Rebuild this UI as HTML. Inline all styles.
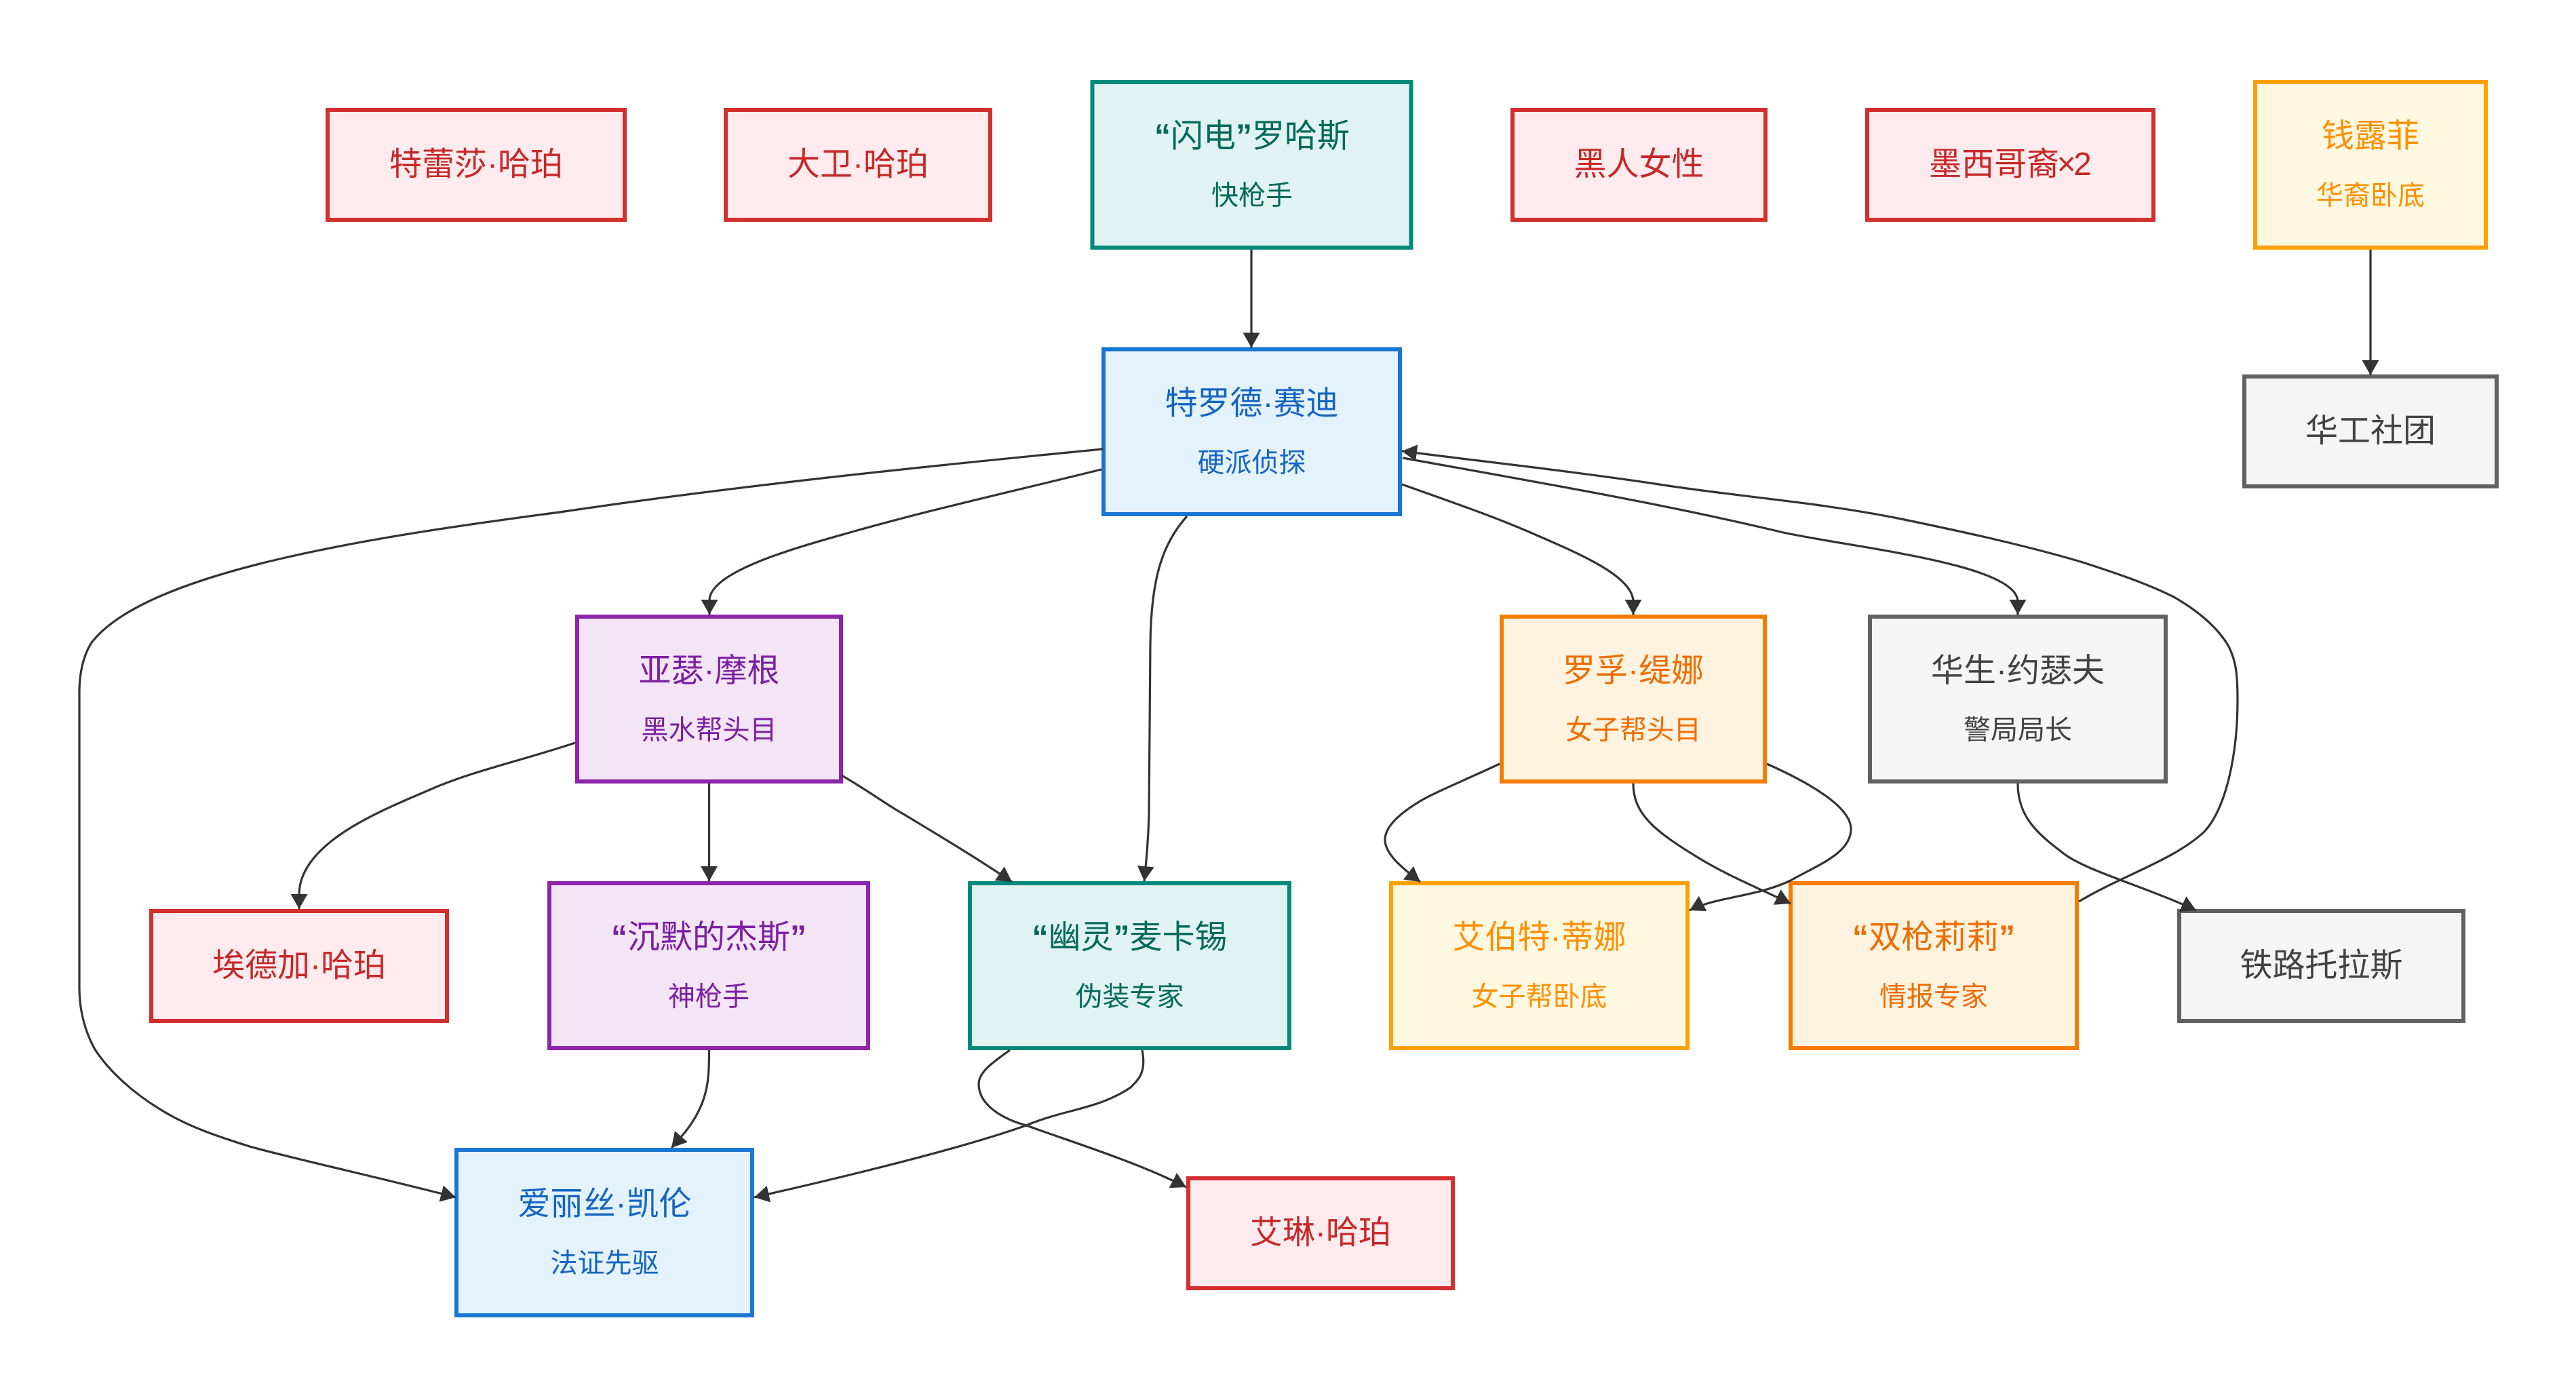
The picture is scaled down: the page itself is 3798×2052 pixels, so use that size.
<!DOCTYPE html>
<html><head><meta charset="utf-8">
<style>
html,body{margin:0;padding:0;background:#fff;width:3798px;height:2052px;overflow:hidden}
svg{display:block}
text{font-family:"Liberation Sans","Noto Sans CJK SC",sans-serif;text-anchor:middle}
.t{font-size:48px}.s{font-size:40px}
.e{fill:none;stroke:#333;stroke-width:3.2;marker-end:url(#a)}
.r rect{fill:#ffebee;stroke:#d32f2f;stroke-width:6}.r text{fill:#c62828}
.g rect{fill:#e0f2f1;stroke:#00897b;stroke-width:6}.g text{fill:#00695c}
.b rect{fill:#e3f2fd;stroke:#1976d2;stroke-width:6}.b text{fill:#1565c0}
.p rect{fill:#f3e5f5;stroke:#8e24aa;stroke-width:6}.p text{fill:#7b1fa2}
.o rect{fill:#fff3e0;stroke:#f57c00;stroke-width:6}.o text{fill:#ef6c00}
.y rect{fill:#fff8e1;stroke:#ffa000;stroke-width:6}.y text{fill:#ff8f00}
.h rect{fill:#f5f5f5;stroke:#616161;stroke-width:6}.h text{fill:#424242}
.q{font-weight:700}
</style></head><body>
<svg width="3798" height="2052" viewBox="0 0 3798 2052" xmlns="http://www.w3.org/2000/svg">
<defs><marker id="a" markerUnits="userSpaceOnUse" markerWidth="22" markerHeight="25" viewBox="0 0 22 25" refX="22" refY="12.5" orient="auto"><path d="M0 0L22 12.500L0 25z" fill="#333"/></marker></defs>

<g class="r"><rect x="483" y="162" width="438" height="162"/><text class="t" x="702" y="258">特蕾莎·哈珀</text></g>
<g class="r"><rect x="1070" y="162" width="390" height="162"/><text class="t" x="1265" y="258">大卫·哈珀</text></g>
<g class="g"><rect x="1610.500" y="121" width="470" height="244"/><text class="t" x="1846" y="216.500"><tspan class="q">“</tspan>闪电<tspan class="q">”</tspan>罗哈斯</text><text class="s" x="1846" y="301.500">快枪手</text></g>
<g class="r"><rect x="2230" y="162" width="373" height="162"/><text class="t" x="2416.500" y="258">黑人女性</text></g>
<g class="r"><rect x="2753" y="162" width="422" height="162"/><text class="t" x="2964" y="258">墨西哥裔<tspan dx="-3.500">×</tspan><tspan dx="-3.500">2</tspan></text></g>
<g class="y"><rect x="3325" y="121" width="340" height="244"/><text class="t" x="3495" y="216.500">钱露菲</text><text class="s" x="3495" y="301.500">华裔卧底</text></g>

<g class="b"><rect x="1627" y="515" width="437" height="243"/><text class="t" x="1845.500" y="610.500">特罗德·赛迪</text><text class="s" x="1845.500" y="695.500">硬派侦探</text></g>
<g class="h"><rect x="3309" y="555" width="372" height="162"/><text class="t" x="3495" y="651">华工社团</text></g>

<g class="p"><rect x="851" y="909" width="389" height="243"/><text class="t" x="1045.500" y="1004.500">亚瑟·摩根</text><text class="s" x="1045.500" y="1089.500">黑水帮头目</text></g>
<g class="o"><rect x="2214" y="909" width="388" height="243"/><text class="t" x="2408" y="1004.500">罗孚·缇娜</text><text class="s" x="2408" y="1089.500">女子帮头目</text></g>
<g class="h"><rect x="2757" y="909" width="436" height="243"/><text class="t" x="2975" y="1004.500">华生·约瑟夫</text><text class="s" x="2975" y="1089.500">警局局长</text></g>

<g class="r"><rect x="223" y="1343" width="436" height="162"/><text class="t" x="441" y="1439">埃德加·哈珀</text></g>
<g class="p"><rect x="810" y="1302" width="470" height="243"/><text class="t" x="1045" y="1397.500"><tspan class="q">“</tspan>沉默的杰斯<tspan class="q">”</tspan></text><text class="s" x="1045" y="1482.500">神枪手</text></g>
<g class="g"><rect x="1430" y="1302" width="471" height="243"/><text class="t" x="1665.500" y="1397.500"><tspan class="q">“</tspan>幽灵<tspan class="q">”</tspan>麦卡锡</text><text class="s" x="1665.500" y="1482.500">伪装专家</text></g>
<g class="y"><rect x="2051" y="1302" width="437" height="243"/><text class="t" x="2269.500" y="1397.500">艾伯特·蒂娜</text><text class="s" x="2269.500" y="1482.500">女子帮卧底</text></g>
<g class="o"><rect x="2640" y="1302" width="422" height="243"/><text class="t" x="2851" y="1397.500"><tspan class="q">“</tspan>双枪莉莉<tspan class="q">”</tspan></text><text class="s" x="2851" y="1482.500">情报专家</text></g>
<g class="h"><rect x="3213" y="1343" width="419" height="162"/><text class="t" x="3422.500" y="1439">铁路托拉斯</text></g>

<g class="b"><rect x="673" y="1695" width="436" height="244"/><text class="t" x="891.500" y="1790.500">爱丽丝·凯伦</text><text class="s" x="891.500" y="1875.500">法证先驱</text></g>
<g class="r"><rect x="1752" y="1737" width="390" height="162"/><text class="t" x="1947" y="1833">艾琳·哈珀</text></g>

<path class="e" d="M1845 368L1845 512.500"/>
<path class="e" d="M3495 368L3495 553"/>
<path class="e" d="M1626 662C1400 684 1100 714 825 755C560 790 220 840 136 946C124 963 117 990 117 1020L117 1455C117 1490 125 1520 140 1547C160 1578 195 1610 234 1634C275 1660 320 1675 368 1690C420 1705 560 1736 672 1765"/>
<path class="e" d="M1624 692C1490 725 1370 752 1260 783C1190 803 1046 840 1046 885L1046 906"/>
<path class="e" d="M1750 761C1715 800 1697 850 1696 950C1695 1050 1695 1150 1694 1200C1693 1240 1690 1270 1687 1299"/>
<path class="e" d="M2067 714C2140 740 2205 762 2268 790C2330 817 2408 850 2408 887L2408 906"/>
<path class="e" d="M2068 675C2250 708 2450 742 2625 784C2720 806 2975 830 2975 887L2975 906"/>
<path class="e" d="M3065 1329C3130 1290 3205 1268 3250 1226C3283 1190 3299 1110 3299 1032C3299 995 3297 975 3286 953C3270 925 3240 900 3205 880C3165 860 3120 845 3071 829C2990 805 2900 785 2803 765C2680 740 2560 732 2446 714C2320 695 2200 682 2067 665"/>
<path class="e" d="M848 1095C770 1121 695 1137 634 1164C570 1192 441 1240 441 1319L441 1340"/>
<path class="e" d="M1045.500 1155L1045.500 1299"/>
<path class="e" d="M1241 1143C1290 1172 1310 1188 1332 1200C1390 1235 1440 1265 1492 1300"/>
<path class="e" d="M2211 1126C2160 1150 2110 1170 2089 1184C2060 1202 2042 1220 2042 1238C2042 1258 2065 1278 2094 1300"/>
<path class="e" d="M2408 1155C2408 1200 2440 1225 2500 1262C2545 1290 2590 1308 2640 1332"/>
<path class="e" d="M2605 1126C2670 1155 2729 1190 2729 1222C2729 1258 2680 1275 2640 1298C2590 1322 2530 1322 2491 1342"/>
<path class="e" d="M2975 1155C2975 1205 3005 1230 3045 1260C3080 1285 3165 1308 3238 1342"/>
<path class="e" d="M1045.500 1548C1045.500 1590 1045 1625 1010 1669L990 1692"/>
<path class="e" d="M1684 1548C1690 1580 1680 1590 1667 1603C1620 1635 1570 1635 1513 1659C1440 1685 1310 1720 1112 1765"/>
<path class="e" d="M1489 1548C1465 1565 1443 1580 1443 1598C1443 1630 1480 1650 1513 1659C1600 1690 1680 1715 1749 1750"/>
</svg>
</body></html>
